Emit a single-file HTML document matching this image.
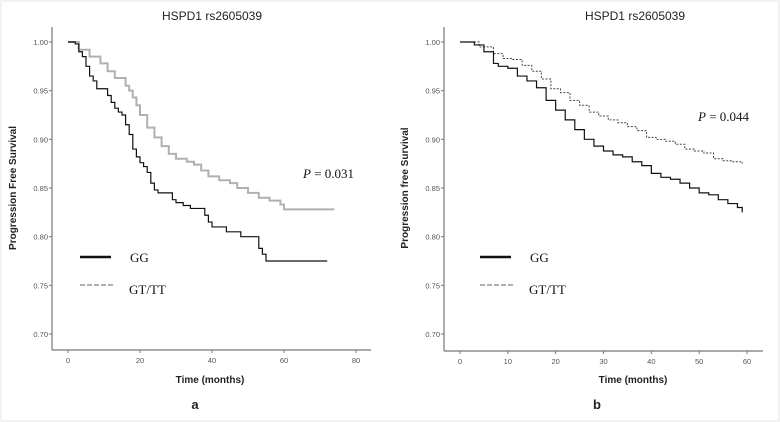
<!DOCTYPE html>
<html><head><meta charset="utf-8"><style>
html,body{margin:0;padding:0;background:#fff}
svg{display:block}
</style></head><body>
<svg id="c" width="780" height="422" xmlns="http://www.w3.org/2000/svg">
<rect x="1" y="1" width="778" height="420" fill="#fff" stroke="#e6e6e6"/>
</svg>
<script>
const yTicks=[1.00,0.95,0.90,0.85,0.80,0.75,0.70];
const xTicksA=[0,20,40,60,80];
const xTicksB=[0,10,20,30,40,50,60];
const aGGt=[0,2,3,4,5,6,7,8,10,11,12,13,14,15,16,17,18,19,20,21,22,23,24,25,28,29,30,32,34,37,38,39,40,43,44,47,48,52,53,54,55,72];
const aGGs=[1,0.998,0.99,0.985,0.975,0.965,0.96,0.952,0.952,0.945,0.938,0.932,0.928,0.925,0.915,0.905,0.89,0.882,0.876,0.872,0.866,0.855,0.848,0.845,0.845,0.838,0.835,0.832,0.829,0.829,0.822,0.815,0.81,0.81,0.805,0.805,0.8,0.8,0.788,0.782,0.775,0.775];
const aGTt=[0,3,6,9,11,13,16,17,18,19,20,22,24,26,28,30,33,35,37,39,42,45,47,50,53,56,59,60,74];
const aGTs=[1,0.992,0.985,0.978,0.97,0.963,0.955,0.95,0.943,0.935,0.925,0.912,0.902,0.893,0.885,0.88,0.877,0.874,0.868,0.862,0.858,0.855,0.85,0.845,0.84,0.837,0.833,0.828,0.828];
const bGGt=[0,3,5,7,8,10,12,14,16,18,20,22,24,26,28,30,32,34,36,38,40,42,44,46,48,50,52,54,56,58,59];
const bGGs=[1,0.997,0.99,0.978,0.975,0.973,0.965,0.96,0.953,0.94,0.93,0.92,0.91,0.9,0.893,0.888,0.884,0.882,0.877,0.873,0.865,0.861,0.859,0.855,0.85,0.845,0.843,0.838,0.834,0.83,0.825];
const bGTt=[0,4,7,9,11,13,15,17,19,21,23,25,27,29,31,33,35,37,39,41,43,45,47,49,51,53,55,57,59];
const bGTs=[1,0.995,0.988,0.983,0.982,0.976,0.97,0.962,0.952,0.948,0.94,0.935,0.928,0.924,0.92,0.917,0.913,0.909,0.902,0.9,0.898,0.895,0.89,0.888,0.886,0.88,0.878,0.877,0.875];

const svg=document.getElementById('c');
const NS='http://www.w3.org/2000/svg';
function mk(tag,at,txt){const e=document.createElementNS(NS,tag);for(const k in at)e.setAttribute(k,at[k]);if(txt!==undefined)e.textContent=txt;svg.appendChild(e);return e;}

function panel(p){
  const sx=v=>p.x0+(v-p.xmin)/(p.xmax-p.xmin)*(p.x1-p.x0);
  const sy=v=>42+(1-v)/0.30*292;
  let e;
  e=mk('text',{x:p.tc,y:20,'font-family':'Liberation Sans, sans-serif','font-size':12,'text-anchor':'middle',fill:'#222'},'HSPD1 rs2605039');
  
  
  e=mk('line',{x1:p.ax,y1:27,x2:p.ax,y2:p.axY,stroke:'#777','stroke-width':1.2});
  
  
  e=mk('line',{x1:p.ax,y1:p.axY,x2:p.axEnd,y2:p.axY,stroke:'#777','stroke-width':1.2});
  
  
  yTicks.forEach(v=>{
    e=mk('line',{x1:p.ax-3,y1:sy(v),x2:p.ax,y2:sy(v),stroke:'#777'});
    
    
    e=mk('text',{x:p.ax-4,y:sy(v)+3,'font-family':'Liberation Sans, sans-serif','font-size':7.5,'text-anchor':'end',fill:'#555'},v.toFixed(2));
    
    
  });
  p.xt.forEach(v=>{
    e=mk('line',{x1:sx(v),y1:p.axY,x2:sx(v),y2:p.axY+3,stroke:'#777'});
    
    
    e=mk('text',{x:sx(v),y:p.axY+13,'font-family':'Liberation Sans, sans-serif','font-size':7.5,'text-anchor':'middle',fill:'#555'},String(v));
    
    
  });
  e=mk('text',{x:p.tc-2,y:383,'font-family':'Liberation Sans, sans-serif','font-size':10,'font-weight':'bold','text-anchor':'middle',fill:'#222'},'Time (months)');
  
  
  e=mk('text',{x:0,y:0,transform:`translate(${p.ax-36},${sy(0.85)}) rotate(-90)`,'font-family':'Liberation Sans, sans-serif','font-size':10,'font-weight':'bold','text-anchor':'middle',fill:'#222'},p.ylab);
  
  
  e=mk('text',{x:p.lx,y:409,'font-family':'Liberation Sans, sans-serif','font-size':13,'font-weight':'bold','text-anchor':'middle',fill:'#222'},p.label);
  
  
  function step(t,s){let d=`M${sx(t[0])},${sy(s[0])}`;for(let i=1;i<t.length;i++){d+=`H${sx(t[i])}V${sy(s[i])}`;}return d;}
  e=mk('path',{d:step(p.gtT,p.gtS),fill:'none',stroke:p.gtCol,'stroke-width':p.gtW,'stroke-dasharray':p.gtDash});
  
  
  e=mk('path',{d:step(p.ggT,p.ggS),fill:'none',stroke:'#111','stroke-width':1.2});
  
  
  e=mk('line',{x1:p.legX,y1:257,x2:p.legX+31,y2:257,stroke:'#111','stroke-width':2.5});
  
  
  e=mk('text',{x:p.legX+50,y:262,'font-family':'Liberation Serif, serif','font-size':13,fill:'#111'},'GG');
  
  
  e=mk('line',{x1:p.legX,y1:285,x2:p.legX+33,y2:285,stroke:'#999','stroke-width':1.5,'stroke-dasharray':'5,2'});
  
  
  e=mk('text',{x:p.legX+49,y:294,'font-family':'Liberation Serif, serif','font-size':13,fill:'#111'},'GT/TT');
  
  
  e=mk('text',{x:p.px,y:p.py,'font-family':'Liberation Serif, serif','font-size':13,fill:'#111'});
  
  
  e.innerHTML=`<tspan font-style="italic">P</tspan> = ${p.pv}`;
}
panel({x0:68,x1:356,xmin:0,xmax:80,ax:52,axY:350,axEnd:371,tc:212,lx:195,label:'a',xt:xTicksA,ylab:'Progression Free Survival',
  ggT:aGGt,ggS:aGGs,gtT:aGTt,gtS:aGTs,gtCol:'#b0b0b0',gtW:2,gtDash:'none',legX:80,px:303,py:178,pv:'0.031'});
panel({x0:460,x1:747,xmin:0,xmax:60,ax:444,axY:351,axEnd:763,tc:635,lx:597,label:'b',xt:xTicksB,ylab:'Progression free Survival',
  ggT:bGGt,ggS:bGGs,gtT:bGTt,gtS:bGTs,gtCol:'#444',gtW:1,gtDash:'2,1.5',legX:480,px:698,py:121,pv:'0.044'});
</script>
</body></html>
